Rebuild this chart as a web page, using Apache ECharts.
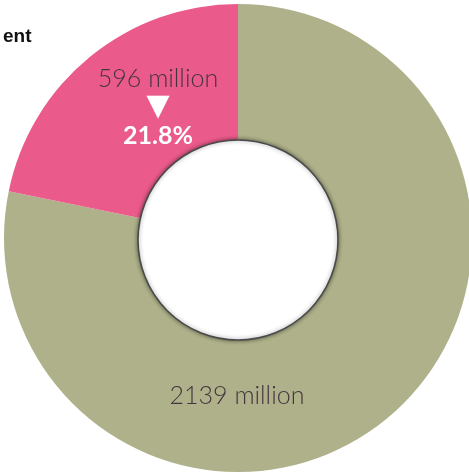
<!DOCTYPE html>
<html>
<head>
<meta charset="utf-8">
<script src="https://cdn.jsdelivr.net/npm/echarts@6/dist/echarts.min.js"></script>
<style>
  html, body { margin: 0; padding: 0; background: #fff; }
  #chart { width: 469px; height: 476px; }
</style>
</head>
<body>
<div id="chart"></div>
<script>
// Population split, in millions
const categories = ['Rest', 'Group'];
const values = [2139, 596];
const colors = ['#aeb189', '#ea5b8c'];
const titleText = 'ent';

const total = values.reduce((a, b) => a + b, 0);
const cx = 238, cy = 238, rIn = 100, rOut = 234;

const chart = echarts.init(document.getElementById('chart'));

const data = categories.map((name, i) => ({
  name: name,
  value: values[i],
  itemStyle: { color: colors[i] }
}));

chart.setOption({
  animation: false,
  title: {
    text: titleText,
    left: -2,
    top: 22,
    textStyle: {
      fontFamily: 'Liberation Sans Narrow, Liberation Sans, sans-serif',
      fontWeight: 'bold',
      fontSize: 19,
      color: '#111'
    }
  },
  series: [{
    type: 'pie',
    center: [cx, cy],
    radius: [rIn - 2, rOut],
    startAngle: 90,
    clockwise: true,
    silent: true,
    data: data,
    label: {
      show: true,
      position: 'inside',
      align: 'center',
      verticalAlign: 'middle',
      formatter: function (p) {
        const millions = '{val|' + p.value + ' million}';
        if (p.dataIndex === 1) {
          const pct = (p.value / total * 100).toFixed(1) + '%';
          return millions + '\n{tri|▼}\n{pct|' + pct + '}';
        }
        return millions;
      },
      rich: {
        val: { fontFamily: 'Lato, sans-serif', fontWeight: 300, fontSize: 25, color: '#45343f', lineHeight: 28 },
        tri: { fontFamily: 'DejaVu Sans, sans-serif', fontSize: 30, color: '#ffffff', lineHeight: 28 },
        pct: { fontFamily: 'Lato, sans-serif', fontWeight: 'bold', fontSize: 25, color: '#ffffff', lineHeight: 30 }
      }
    },
    labelLayout: function (params) {
      if (params.dataIndex === 1) {
        return { x: 158, y: 108, align: 'center', verticalAlign: 'middle' };
      }
      return { x: 237, y: 396, align: 'center', verticalAlign: 'middle' };
    },
    labelLine: { show: false }
  }],
  graphic: [{
    type: 'circle',
    z: 100,
    shape: { cx: cx, cy: cy + 2, r: rIn },
    style: {
      fill: '#ffffff',
      stroke: '#4a4a4a',
      lineWidth: 1.6,
      shadowBlur: 4,
      shadowColor: 'rgba(0,0,0,0.45)'
    }
  }]
});
</script>
</body>
</html>
